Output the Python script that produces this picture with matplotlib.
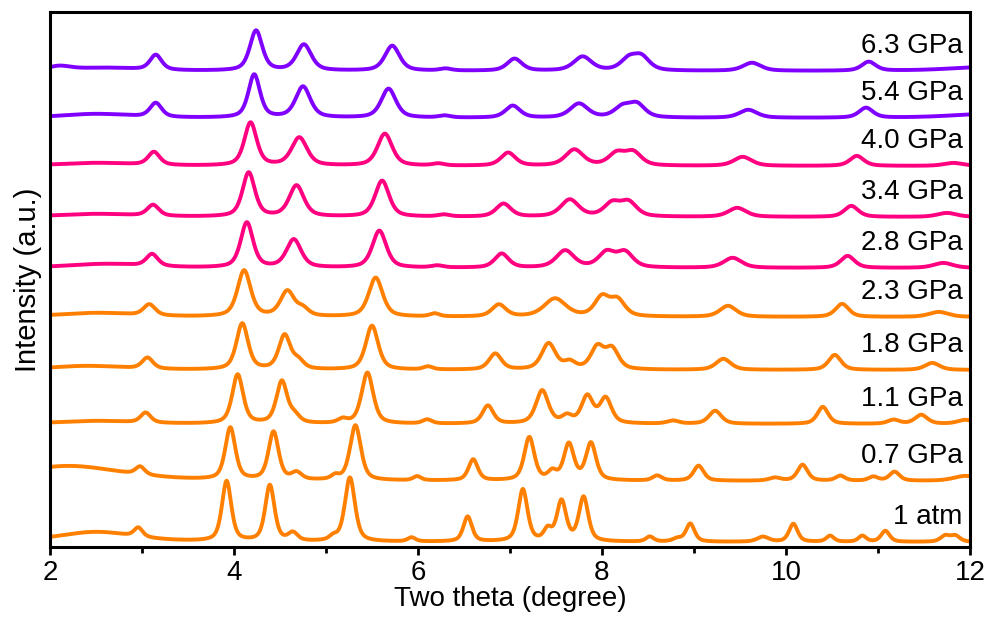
import numpy as np
import matplotlib
matplotlib.use('Agg')
import matplotlib.pyplot as plt
from matplotlib.ticker import MultipleLocator

plt.rcParams['font.family'] = ['Liberation Sans', 'DejaVu Sans']

# peaks per pattern: (two theta, height, fwhm)
peaks_1atm = [(2.5, 10, 1.0), (2.96, 9, 0.11), (3.92, 60, 0.12), (4.39, 56, 0.12),
              (4.64, 8, 0.12), (5.08, 4, 0.10), (5.26, 64, 0.13), (5.93, 4, 0.10),
              (6.54, 25, 0.11), (7.14, 52, 0.12), (7.41, 11, 0.10), (7.56, 40, 0.12),
              (7.80, 44, 0.12), (8.52, 5, 0.10), (8.82, 3, 0.12), (8.96, 18, 0.11),
              (9.75, 5, 0.15), (10.08, 18, 0.11), (10.48, 6, 0.10), (10.83, 6, 0.10),
              (11.08, 11, 0.11), (11.73, 6, 0.12), (11.84, 6, 0.12)]
peaks_07 = [(2.2, 15, 1.4), (2.98, 8, 0.12), (3.96, 52, 0.13), (4.43, 48, 0.13),
            (4.68, 7, 0.13), (5.10, 4, 0.10), (5.32, 55, 0.14), (5.99, 4, 0.10),
            (6.60, 21, 0.12), (7.21, 43, 0.13), (7.46, 8, 0.11), (7.64, 36, 0.13),
            (7.88, 37, 0.13), (8.60, 5, 0.12), (9.05, 15, 0.13), (9.88, 3, 0.15),
            (10.18, 16, 0.13), (10.59, 5, 0.12), (10.95, 4, 0.12), (11.18, 9, 0.13),
            (11.95, 5, 0.3)]
peaks_11 = [(2.5, 3, 1.0), (3.04, 10, 0.13), (4.04, 49, 0.14), (4.52, 42, 0.14),
            (4.66, 7, 0.13), (5.18, 4, 0.12), (5.45, 51, 0.15), (6.10, 4, 0.12),
            (6.76, 18, 0.14), (7.35, 33, 0.16), (7.62, 7, 0.13), (7.84, 27, 0.15),
            (8.04, 25, 0.15), (8.77, 3, 0.15), (9.23, 13, 0.16), (10.40, 17, 0.14),
            (11.17, 4, 0.15), (11.47, 9, 0.16), (11.95, 4, 0.2)]
peaks_18 = [(2.4, 4, 1.0), (3.06, 11, 0.14), (4.09, 46, 0.15), (4.55, 34, 0.15),
            (4.70, 8, 0.14), (5.50, 44, 0.16), (6.11, 3, 0.12), (6.84, 16, 0.16),
            (7.42, 26, 0.18), (7.65, 7, 0.15), (7.95, 22, 0.17), (8.11, 20, 0.17),
            (9.32, 11, 0.19), (10.53, 15, 0.16), (11.59, 7, 0.19)]
peaks_23 = [(2.5, 4, 1.0), (3.08, 11, 0.15), (4.11, 46, 0.17), (4.58, 25, 0.18),
            (4.75, 7, 0.15), (5.54, 39, 0.18), (6.18, 3, 0.12), (6.88, 12, 0.18),
            (7.49, 18, 0.28), (8.00, 19, 0.19), (8.17, 16, 0.19), (9.37, 11, 0.21),
            (10.61, 13, 0.17), (11.66, 5, 0.25)]
peaks_28 = [(2.6, 4, 1.0), (3.11, 12, 0.15), (4.14, 45, 0.16), (4.65, 28, 0.19),
            (5.58, 37, 0.18), (6.21, 2, 0.15), (6.91, 14, 0.18), (7.60, 17, 0.23),
            (8.05, 15, 0.21), (8.25, 15, 0.21), (9.42, 10, 0.23), (10.67, 12, 0.18),
            (11.71, 5, 0.25)]
peaks_34 = [(2.5, 3, 1.0), (3.12, 11, 0.15), (4.16, 44, 0.16), (4.68, 31, 0.19),
            (5.61, 36, 0.18), (6.28, 2, 0.15), (6.93, 13, 0.19), (7.65, 17, 0.23),
            (8.11, 13, 0.21), (8.29, 14, 0.21), (9.47, 9, 0.23), (10.71, 11, 0.18),
            (11.75, 4, 0.25)]
peaks_40 = [(2.5, 3, 1.0), (3.13, 13, 0.15), (4.18, 43, 0.16), (4.71, 28, 0.2),
            (5.64, 32, 0.19), (6.22, 2, 0.15), (6.98, 13, 0.19), (7.70, 16, 0.23),
            (8.16, 12, 0.21), (8.34, 13, 0.21), (9.53, 9, 0.23), (10.77, 10, 0.18),
            (11.82, 3, 0.25)]
peaks_54 = [(2.5, 4, 0.9), (3.15, 14, 0.15), (4.22, 43, 0.15), (4.75, 31, 0.19),
            (5.68, 29, 0.19), (6.29, 2, 0.15), (7.03, 12, 0.19), (7.75, 14, 0.23),
            (8.22, 10, 0.21), (8.38, 13, 0.21), (9.59, 8, 0.23), (10.87, 10, 0.18),
            (12.2, 4, 1.0)]
peaks_63 = [(2.1, 4, 0.3), (2.6, 3, 0.9), (3.15, 15, 0.15), (4.24, 40, 0.16),
            (4.76, 26, 0.19), (5.72, 25, 0.19), (6.30, 2, 0.15), (7.05, 12, 0.19),
            (7.79, 14, 0.23), (8.29, 11, 0.21), (8.43, 13, 0.21), (9.63, 8, 0.23),
            (10.90, 9, 0.18), (12.2, 4, 1.0)]

patterns = [peaks_1atm, peaks_07, peaks_11, peaks_18, peaks_23,
            peaks_28, peaks_34, peaks_40, peaks_54, peaks_63]
labels = ['1 atm', '0.7 GPa', '1.1 GPa', '1.8 GPa', '2.3 GPa',
          '2.8 GPa', '3.4 GPa', '4.0 GPa', '5.4 GPa', '6.3 GPa']
offsets = [5, 66, 123, 177, 230, 279, 330, 381, 429, 476]
colors = ['#FF8000'] * 5 + ['#FF0080'] * 3 + ['#8000FF'] * 2


def pseudo_voigt(x, pos, height, fwhm, eta=0.55):
    d = (x - pos) / fwhm
    gauss = np.exp(-4 * np.log(2) * d ** 2)
    lorentz = 1 / (1 + 4 * d ** 2)
    return height * (eta * lorentz + (1 - eta) * gauss)


two_theta = np.linspace(2, 12, 2001)

fig = plt.figure(figsize=(9.92, 6.19), dpi=100)
ax = fig.add_axes([0.0504, 0.1163, 0.9274, 0.8643])

for peaks, off, col, lab in zip(patterns, offsets, colors, labels):
    y = np.full_like(two_theta, off, dtype=float)
    for p, h, w in peaks:
        y += pseudo_voigt(two_theta, p, h, w)
    ax.plot(two_theta, y, color=col, lw=2.8, solid_joinstyle='round')
    ax.text(11.92, off + 25, lab, ha='right', va='center', fontsize=20)

ax.set_xlim(2, 12)
ax.set_ylim(0, 535)
ax.xaxis.set_major_locator(MultipleLocator(2))
ax.xaxis.set_minor_locator(MultipleLocator(1))
ax.set_yticks([])
ax.tick_params(axis='x', which='major', direction='out', length=6, width=2,
               labelsize=20, pad=3)
ax.tick_params(axis='x', which='minor', direction='out', length=4, width=2)
for s in ax.spines.values():
    s.set_linewidth(2.2)

ax.set_xlabel('Two theta (degree)', fontsize=20, labelpad=0)
ax.set_ylabel('Intensity (a.u.)', fontsize=21, labelpad=6)

fig.savefig('out.png', dpi=100)
